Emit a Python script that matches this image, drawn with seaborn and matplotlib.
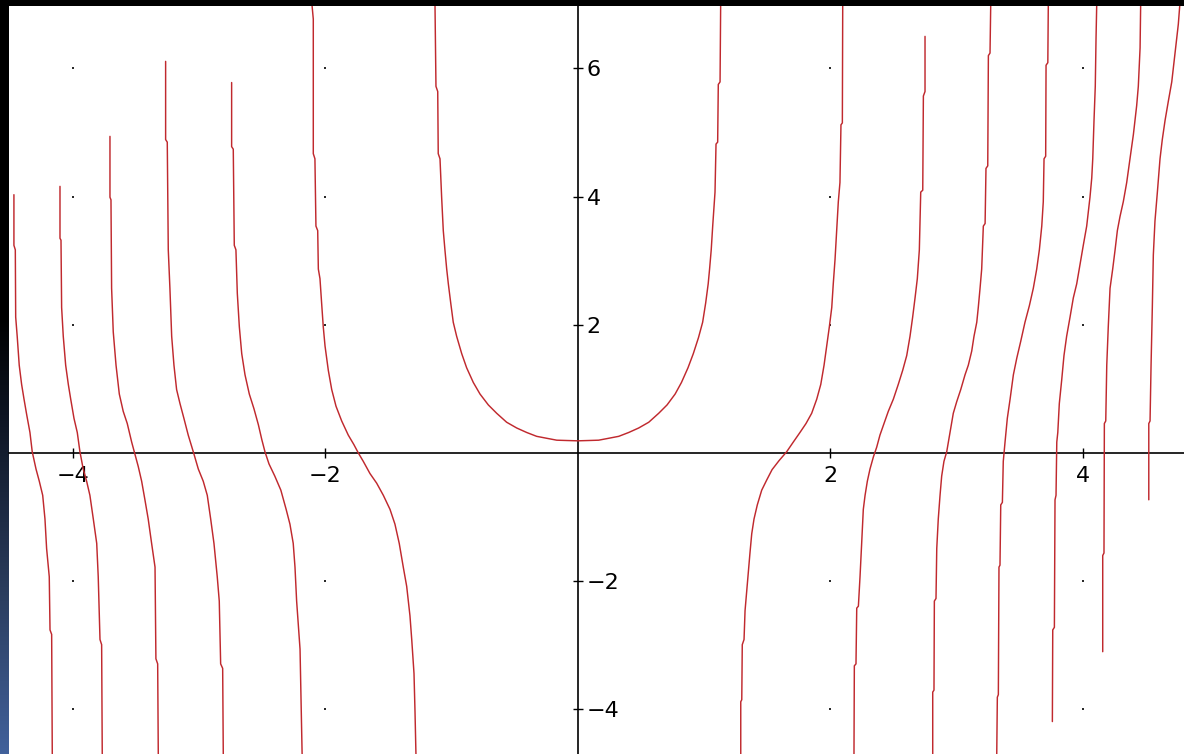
import numpy as np
import pandas as pd
import matplotlib
matplotlib.use("Agg")
import matplotlib.pyplot as plt
import seaborn as sns
from matplotlib.colors import LinearSegmentedColormap

# ---- curve branches, (x, y) vertices of each separate piece ----
left_1 = [(-4.467, 4.03), (-4.467, 3.24), (-4.456, 3.17), (-4.453, 2.12), (-4.441, 1.82),
          (-4.425, 1.37), (-4.406, 1.07), (-4.387, 0.84), (-4.366, 0.60), (-4.340, 0.32),
          (-4.322, 0.02), (-4.292, -0.25), (-4.266, -0.44), (-4.239, -0.66), (-4.221, -1.03),
          (-4.208, -1.49), (-4.187, -1.93), (-4.181, -2.76), (-4.168, -2.83), (-4.163, -4.75)]
left_2 = [(-4.102, 4.16), (-4.102, 3.35), (-4.094, 3.32), (-4.089, 2.27), (-4.076, 1.82),
          (-4.057, 1.37), (-4.036, 1.07), (-4.017, 0.84), (-3.991, 0.54), (-3.965, 0.32),
          (-3.944, 0.02), (-3.918, -0.25), (-3.891, -0.44), (-3.865, -0.66), (-3.838, -1.03),
          (-3.811, -1.41), (-3.799, -1.93), (-3.785, -2.91), (-3.772, -2.99), (-3.767, -4.75)]
left_3 = [(-3.706, 4.94), (-3.706, 3.99), (-3.698, 3.95), (-3.693, 2.57), (-3.680, 1.89),
          (-3.658, 1.37), (-3.632, 0.92), (-3.601, 0.65), (-3.569, 0.46), (-3.534, 0.17),
          (-3.508, -0.02), (-3.482, -0.21), (-3.455, -0.44), (-3.429, -0.73), (-3.403, -1.03),
          (-3.376, -1.41), (-3.349, -1.78), (-3.342, -3.21), (-3.328, -3.29), (-3.323, -4.75)]
left_4 = [(-3.265, 6.11), (-3.265, 4.89), (-3.252, 4.85), (-3.244, 3.17), (-3.231, 2.57),
          (-3.217, 1.82), (-3.199, 1.37), (-3.178, 0.99), (-3.151, 0.77), (-3.120, 0.54),
          (-3.086, 0.28), (-3.046, 0.02), (-3.006, -0.25), (-2.967, -0.44), (-2.935, -0.66),
          (-2.908, -1.03), (-2.882, -1.41), (-2.856, -1.93), (-2.840, -2.31), (-2.829, -3.29),
          (-2.813, -3.36), (-2.808, -4.75)]
left_5 = [(-2.742, 5.78), (-2.742, 4.78), (-2.729, 4.74), (-2.721, 3.24), (-2.708, 3.17),
          (-2.697, 2.49), (-2.681, 1.97), (-2.662, 1.55), (-2.636, 1.22), (-2.602, 0.92),
          (-2.565, 0.69), (-2.530, 0.44), (-2.503, 0.21), (-2.478, 0.02), (-2.446, -0.17),
          (-2.400, -0.36), (-2.352, -0.58), (-2.310, -0.88), (-2.280, -1.11), (-2.254, -1.41),
          (-2.240, -1.78), (-2.227, -2.31), (-2.200, -3.06), (-2.183, -4.75)]
left_6 = [(-2.108, 7.05), (-2.095, 6.77), (-2.095, 4.67), (-2.082, 4.59), (-2.074, 3.54),
          (-2.060, 3.47), (-2.055, 2.87), (-2.042, 2.72), (-2.029, 2.34), (-2.016, 1.97),
          (-2.002, 1.67), (-1.976, 1.29), (-1.949, 0.99), (-1.915, 0.73), (-1.870, 0.50),
          (-1.818, 0.28), (-1.773, 0.13), (-1.738, 0.00), (-1.699, -0.13), (-1.646, -0.32),
          (-1.593, -0.47), (-1.540, -0.66), (-1.487, -0.88), (-1.448, -1.11), (-1.414, -1.41),
          (-1.382, -1.78), (-1.355, -2.08), (-1.329, -2.54), (-1.315, -2.91), (-1.297, -3.44),
          (-1.289, -4.04), (-1.281, -4.75)]
center_cup = [(-1.131, 7.05), (-1.123, 5.72), (-1.109, 5.64), (-1.105, 4.67), (-1.091, 4.59),
              (-1.078, 3.99), (-1.065, 3.47), (-1.052, 3.17), (-1.038, 2.87), (-1.025, 2.64),
              (-1.006, 2.34), (-0.986, 2.04), (-0.959, 1.82), (-0.919, 1.55), (-0.880, 1.33),
              (-0.827, 1.10), (-0.774, 0.92), (-0.708, 0.75), (-0.642, 0.62), (-0.563, 0.48),
              (-0.483, 0.39), (-0.404, 0.32), (-0.325, 0.26), (-0.246, 0.23), (-0.166, 0.20),
              (-0.087, 0.195), (0.000, 0.19), (0.087, 0.195), (0.166, 0.20), (0.246, 0.23),
              (0.325, 0.26), (0.404, 0.32), (0.483, 0.39), (0.563, 0.48), (0.642, 0.62),
              (0.708, 0.75), (0.772, 0.92), (0.822, 1.10), (0.874, 1.33), (0.916, 1.55),
              (0.957, 1.80), (0.990, 2.04), (1.014, 2.34), (1.034, 2.64), (1.045, 2.87),
              (1.058, 3.17), (1.070, 3.55), (1.088, 4.07), (1.096, 4.82), (1.109, 4.85),
              (1.114, 5.75), (1.128, 5.79), (1.133, 7.05)]
right_1 = [(1.292, -4.75), (1.292, -3.88), (1.300, -3.85), (1.304, -2.99), (1.318, -2.91),
           (1.326, -2.46), (1.339, -2.16), (1.352, -1.86), (1.365, -1.56), (1.379, -1.26),
           (1.397, -1.03), (1.423, -0.81), (1.458, -0.58), (1.498, -0.42), (1.540, -0.26),
           (1.595, -0.12), (1.656, 0.02), (1.708, 0.17), (1.761, 0.32), (1.809, 0.46),
           (1.854, 0.62), (1.894, 0.84), (1.926, 1.07), (1.952, 1.37), (1.973, 1.67),
           (1.994, 1.97), (2.013, 2.27), (2.025, 2.64), (2.039, 3.02), (2.052, 3.47),
           (2.065, 3.92), (2.078, 4.22), (2.086, 5.12), (2.097, 5.15), (2.100, 7.05)]
right_2 = [(2.189, -4.75), (2.192, -3.32), (2.205, -3.29), (2.211, -2.42), (2.224, -2.39),
           (2.237, -1.93), (2.250, -1.41), (2.263, -0.88), (2.277, -0.66), (2.295, -0.44),
           (2.316, -0.25), (2.343, -0.06), (2.369, 0.09), (2.395, 0.28), (2.427, 0.46),
           (2.461, 0.65), (2.501, 0.84), (2.540, 1.07), (2.575, 1.29), (2.607, 1.52),
           (2.633, 1.82), (2.654, 2.12), (2.673, 2.42), (2.691, 2.72), (2.707, 3.17),
           (2.718, 4.07), (2.734, 4.10), (2.739, 5.57), (2.752, 5.64), (2.752, 6.50)]
right_3 = [(2.813, -4.75), (2.813, -3.73), (2.823, -3.70), (2.826, -2.31), (2.839, -2.27),
           (2.845, -1.49), (2.857, -1.03), (2.871, -0.66), (2.884, -0.36), (2.902, -0.13),
           (2.924, 0.02), (2.950, 0.32), (2.976, 0.62), (3.003, 0.80), (3.035, 0.99),
           (3.069, 1.22), (3.095, 1.37), (3.122, 1.59), (3.140, 1.82), (3.162, 2.04),
           (3.174, 2.27), (3.188, 2.57), (3.201, 2.87), (3.214, 3.54), (3.228, 3.58),
           (3.235, 4.44), (3.249, 4.48), (3.254, 6.20), (3.267, 6.24), (3.273, 7.05)]
right_4 = [(3.320, -4.75), (3.325, -3.81), (3.333, -3.77), (3.338, -1.78), (3.346, -1.75),
           (3.352, -0.81), (3.365, -0.77), (3.372, -0.13), (3.386, 0.17), (3.404, 0.54),
           (3.426, 0.84), (3.452, 1.22), (3.479, 1.48), (3.510, 1.74), (3.544, 2.04),
           (3.579, 2.30), (3.610, 2.57), (3.637, 2.87), (3.658, 3.17), (3.677, 3.54),
           (3.689, 3.92), (3.695, 4.59), (3.708, 4.63), (3.711, 6.05), (3.725, 6.09),
           (3.729, 7.05)]
right_5 = [(3.761, -4.19), (3.764, -2.76), (3.777, -2.72), (3.782, -0.73), (3.790, -0.66),
           (3.796, 0.17), (3.804, 0.32), (3.816, 0.77), (3.835, 1.14), (3.853, 1.52),
           (3.874, 1.82), (3.901, 2.12), (3.927, 2.42), (3.954, 2.64), (3.980, 2.94),
           (4.006, 3.24), (4.033, 3.54), (4.059, 3.99), (4.073, 4.29), (4.081, 4.59),
           (4.091, 5.19), (4.101, 5.72), (4.107, 6.47), (4.113, 7.05)]
right_6 = [(4.160, -3.10), (4.160, -1.60), (4.170, -1.56), (4.173, 0.46), (4.184, 0.50),
           (4.192, 1.37), (4.204, 1.97), (4.218, 2.57), (4.239, 2.87), (4.258, 3.17),
           (4.276, 3.47), (4.297, 3.69), (4.323, 3.92), (4.350, 4.22), (4.376, 4.59),
           (4.403, 4.97), (4.429, 5.42), (4.442, 5.72), (4.456, 6.32), (4.461, 7.05)]
right_7 = [(4.525, -0.73), (4.525, 0.46), (4.535, 0.50), (4.543, 1.37), (4.553, 2.27),
           (4.561, 3.09), (4.574, 3.62), (4.593, 4.07), (4.614, 4.59), (4.632, 4.89),
           (4.654, 5.19), (4.680, 5.49), (4.707, 5.79), (4.733, 6.24), (4.759, 6.69),
           (4.773, 7.05)]

# ---- axes ticks and the dotted grid ----
x_ticks = [-4, -2, 2, 4]
x_tick_labels = ["\u22124", "\u22122", "2", "4"]
y_ticks = [-4, -2, 2, 4, 6]
y_tick_labels = ["\u22124", "\u22122", "2", "4", "6"]
grid_x = [-4, -2, 2, 4]
grid_y = [-4, -2, 2, 4, 6]

branches = {
    "left_1": left_1, "left_2": left_2, "left_3": left_3, "left_4": left_4,
    "left_5": left_5, "left_6": left_6, "center_cup": center_cup,
    "right_1": right_1, "right_2": right_2, "right_3": right_3, "right_4": right_4,
    "right_5": right_5, "right_6": right_6, "right_7": right_7,
}
frames = []
for name, pts in branches.items():
    part = pd.DataFrame(pts, columns=["x", "y"])
    part["branch"] = name
    frames.append(part)
curve = pd.concat(frames, ignore_index=True)

gx, gy = np.meshgrid(grid_x, grid_y)
dots = pd.DataFrame({"x": gx.ravel(), "y": gy.ravel()})

sns.set_theme(style="white")
plt.rcParams["font.family"] = ["DejaVu Sans"]

W, H = 1184, 754
fig = plt.figure(figsize=(W / 100, H / 100), dpi=100, facecolor="black")

# dark slide edge on the left, fading from black to blue
edge = fig.add_axes([0, 0, 9 / W, 1])
edge_cmap = LinearSegmentedColormap.from_list(
    "edge", [(0.0, "#41619b"), (0.22, "#2a3c5c"), (0.45, "#0d1422"), (0.58, "#000000"), (1.0, "#000000")])
edge.imshow(np.linspace(0, 1, 256).reshape(-1, 1), aspect="auto", cmap=edge_cmap,
            origin="lower", extent=[0, 1, 0, 1])
edge.set_axis_off()

ax = fig.add_axes([9 / W, 0, 1175 / W, 748 / H])
ax.set_facecolor("white")

sns.scatterplot(data=dots, x="x", y="y", s=3.5, marker="s", color="#2a2a2a",
                linewidth=0, ax=ax, zorder=1)
sns.lineplot(data=curve, x="x", y="y", units="branch", estimator=None, sort=False,
             color="#c0292e", linewidth=1.05, ax=ax, legend=False, zorder=3)

ax.set_xlim(-4.506, 4.804)
ax.set_ylim(-4.696, 6.974)

ax.spines["left"].set_visible(False)
ax.spines["top"].set_visible(False)
ax.spines["right"].set_position(("data", 0))
ax.spines["bottom"].set_position(("data", 0))
for side in ("right", "bottom"):
    ax.spines[side].set_color("black")
    ax.spines[side].set_linewidth(1.2)
    ax.spines[side].set_zorder(2)
ax.yaxis.tick_right()
ax.xaxis.tick_bottom()

ax.set_xticks(x_ticks, labels=x_tick_labels)
ax.set_yticks(y_ticks, labels=y_tick_labels)
ax.tick_params(axis="both", direction="inout", length=7, width=1.0, color="black",
               labelsize=16, labelcolor="black")
ax.tick_params(axis="x", pad=6)
ax.tick_params(axis="y", pad=3)
ax.set_xlabel("")
ax.set_ylabel("")

fig.savefig("out.png", dpi=100, facecolor="black")
